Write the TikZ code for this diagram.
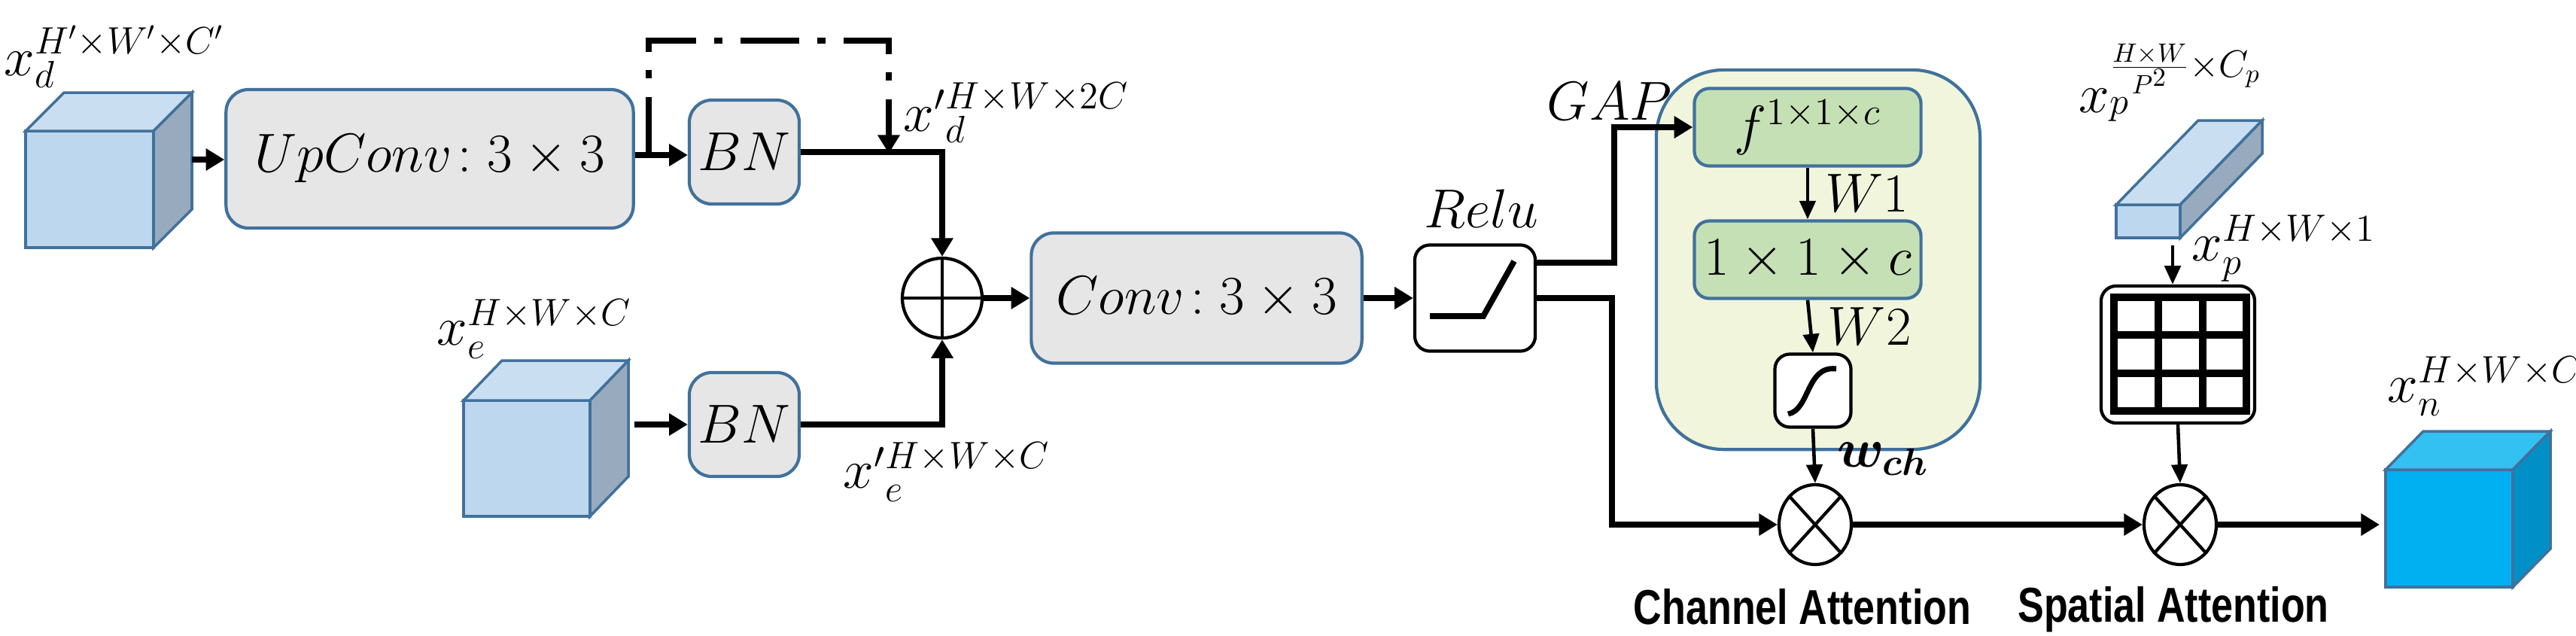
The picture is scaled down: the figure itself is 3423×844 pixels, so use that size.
\documentclass[tikz,border=0pt]{standalone}
\usepackage{fontspec}
\usepackage{bm}
\newfontfamily\lsans{Liberation Sans}
\usetikzlibrary{arrows.meta,calc,shapes.geometric}
\definecolor{cfront}{HTML}{BDD7EE}\definecolor{ctop}{HTML}{CADEF1}\definecolor{cside}{HTML}{98ABBE}
\definecolor{bord}{HTML}{41719C}\definecolor{gbox}{HTML}{E7E6E6}
\definecolor{gbig}{HTML}{F0F5DC}\definecolor{ginn}{HTML}{C5E0B4}
\definecolor{nfront}{HTML}{00B0F0}\definecolor{ntop}{HTML}{33C1F2}\definecolor{nside}{HTML}{0090C8}
\begin{document}
\begin{tikzpicture}[x=0.01cm,y=-0.01cm,
 box/.style={draw=bord,line width=1.2pt,rounded corners=0.3cm,fill=gbox,font=\fontsize{20}{24}\selectfont},
 gin/.style={draw=bord,line width=1.2pt,rounded corners=0.2cm,fill=ginn,minimum width=3.01cm,minimum height=1.03cm,font=\fontsize{20}{24}\selectfont},
 wbox/.style={draw=black,line width=1.2pt,rounded corners=0.2cm,fill=white},
 arr/.style={line width=2.2pt,-{Triangle[length=7pt,width=8pt]}},
 tarr/.style={line width=1.3pt,-{Triangle[length=7pt,width=6pt]}},
 lbl/.style={font=\fontsize{20}{24}\selectfont,inner sep=0pt},
 ttl/.style={font=\lsans\bfseries\fontsize{18.5}{22}\selectfont,inner sep=0pt,xscale=0.8}]
\useasboundingbox (0,0) rectangle (3423,844);
% cubes
\newcommand\mycube[7]{%
 \filldraw[draw=bord,line width=1pt,fill=#7front] (#1,#2) rectangle (#3,#4);
 \filldraw[draw=bord,line width=1pt,fill=#7top] (#1,#2)--++(#5,#6)--(#3+#5,#2+#6)--(#3,#2)--cycle;
 \filldraw[draw=bord,line width=1pt,fill=#7side] (#3,#2)--++(#5,#6)--(#3+#5,#4+#6)--(#3,#4)--cycle;}
\mycube{34}{174}{204}{329}{51}{-51}{c}
\mycube{616}{532}{784}{686}{51}{-53}{c}
\mycube{3170}{624}{3339}{780}{50}{-51}{n}
\mycube{2812}{272}{2897}{316}{109}{-112}{c}
\coordinate (c1) at (255,212);
\coordinate (c2) at (843,564);
\coordinate (c3) at (3162,697);
\coordinate (pr) at (2887,326);
% boxes
\node[box,minimum width=5.41cm,minimum height=1.84cm] (up) at (571,211) {$UpConv\!: 3\times 3$};
\node[box,minimum width=1.44cm,minimum height=1.38cm] (bn1) at (989,202) {$BN$};
\node[box,minimum width=1.44cm,minimum height=1.38cm] (bn2) at (989,564) {$BN$};
\node[box,minimum width=4.39cm,minimum height=1.73cm] (conv) at (1590,396) {$Conv\!: 3\times 3$};
\node[draw,circle,line width=1.2pt,minimum size=1.06cm,inner sep=0pt] (op) at (1252,396) {};
\draw[line width=1.2pt] (op.north)--(op.south) (op.west)--(op.east);
\node[wbox,minimum width=1.6cm,minimum height=1.41cm] (relu) at (1960,396) {};
\draw[line width=2.2pt] (1900,420)--(1971,420)--(2012,347);
\node[lbl] at (1968,277) {$Relu$};
\node[draw=bord,line width=1.2pt,fill=gbig,rounded corners=0.9cm,minimum width=4.3cm,minimum height=5.04cm] (big) at (2416,345) {};
\node[gin] (f) at (2402,169) {$f^{1\times1\times c}$};
\node[gin] (m) at (2402,345) {$1\times1\times c$};
\node[wbox,minimum width=1.01cm,minimum height=0.97cm] (sig) at (2409,519) {};
\draw[line width=2pt] (2376,550) .. controls (2405,545) and (2400,485) .. (2440,490);
\node[draw,ellipse,line width=1.2pt,minimum width=0.96cm,minimum height=1.06cm,inner sep=0pt] (o1) at (2412,697) {};
\node[draw,ellipse,line width=1.2pt,minimum width=0.96cm,minimum height=1.06cm,inner sep=0pt] (o2) at (2897,697) {};
\foreach \o in {o1,o2}{\draw[line width=1.2pt] (\o.north east)--(\o.south west) (\o.north west)--(\o.south east);}
\node[wbox,minimum width=2.04cm,minimum height=1.82cm] (grid) at (2894,471) {};
\draw[line width=3pt] (2809,395) rectangle (2985,546) (2868,395)--(2868,546) (2927,395)--(2927,546) (2809,445)--(2985,445) (2809,496)--(2985,496);
% connectors
\draw[arr] (c1) -- (up.west|-c1);
\draw[arr] (up.east|-0,206) -- (bn1.west|-0,206);
\draw[line width=2.2pt,dash pattern=on 22pt off 7pt on 3pt off 7pt] (862,206)--(862,54)--(1181,54)--(1181,170);
\draw[arr] (1181,170)--(1181,204);
\draw[arr] (bn1.east) -| (op.north);
\draw[arr] (c2) -- (bn2.west|-c2);
\draw[arr] (bn2.east) -| (op.south);
\draw[arr] (op.east) -- (conv.west);
\draw[arr] (conv.east) -- (relu.west);
\draw[arr] ($(relu.east)+(0,-47)$) -- (2145,349) |- (f.west);
\draw[arr] (relu.east) -- (2142,396) |- (o1.west);
\draw[tarr] (f.south) -- (m.north) node[midway,right=6pt,lbl]{$W1$};
\draw[tarr] (m.south) -- (sig.north) node[midway,right=6pt,lbl]{$W2$};
\draw[tarr] (sig.south) -- (o1.north) node[pos=0.55,right=8pt,lbl]{$\bm{w_{ch}}$};
\draw[arr] (o1.east) -- (o2.west);
\draw[arr] (o2.east) -- (c3);
\draw[tarr] (pr) -- (pr|-grid.north);
\draw[tarr] (grid.south) -- (o2.north);
% labels
\node[lbl,anchor=west] at (5,75) {$x_d^{H'\times W'\times C'}$};
\node[lbl,anchor=west] at (1200,150) {$x'{}_d^{H\times W\times 2C}$};
\node[lbl,anchor=west] at (580,437) {$x_e^{H\times W\times C}$};
\node[lbl,anchor=west] at (1120,627) {$x'{}_e^{H\times W\times C}$};
\node[lbl,anchor=west] at (2055,135) {$GAP$};
\node[lbl,anchor=west] at (2762,110) {$x_p^{\frac{H\times W}{P^2}\times C_p}$};
\node[lbl,anchor=west] at (2912,330) {$x_p^{H\times W\times 1}$};
\node[lbl,anchor=west] at (3172,513) {$x_n^{H\times W\times C}$};
\node[ttl] at (2395,806) {Channel Attention};
\node[ttl] at (2888,810) {Spatial Attention};
\end{tikzpicture}
\end{document}
